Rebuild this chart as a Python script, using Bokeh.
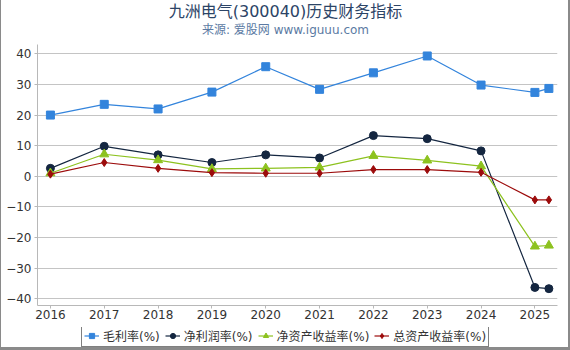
from bokeh.plotting import figure
from bokeh.models import Legend, LegendItem, FixedTicker, Range1d, ColumnDataSource
from bokeh.core.properties import value
from bokeh.layouts import column
from bokeh.embed import file_html
from bokeh.resources import INLINE

title = "九洲电气(300040)历史财务指标"
subtitle = "来源: 爱股网 www.iguuu.com"
x = [2016, 2017, 2018, 2019, 2020, 2021, 2022, 2023, 2024, 2025, 2025.26]
tick_years = [2016, 2017, 2018, 2019, 2020, 2021, 2022, 2023, 2024, 2025]
gross = [20.0, 23.5, 22.0, 27.5, 35.8, 28.4, 33.8, 39.3, 29.8, 27.4, 28.7]
net = [2.6, 9.8, 7.0, 4.5, 7.0, 6.0, 13.3, 12.3, 8.3, -36.3, -36.7]
roe = [1.0, 7.2, 5.3, 2.4, 2.6, 2.9, 6.7, 5.2, 3.3, -22.9, -22.6]
roa = [0.7, 4.5, 2.6, 1.2, 1.0, 1.0, 2.2, 2.2, 1.3, -7.7, -7.7]
names = ["毛利率(%)", "净利润率(%)", "净资产收益率(%)", "总资产收益率(%)"]

FONT = "DejaVu Sans, 'Noto Sans CJK SC'"
W = 567
ML, MR = 36, 11
HEAD_H, MAIN_H, LEG_H = 44, 283, 20


def strip(h, xr=(0, 1), yr=(0, 1)):
    f = figure(width=W, height=h, output_backend="svg", toolbar_location=None,
               x_range=Range1d(*xr), y_range=Range1d(*yr),
               x_axis_location=None, y_axis_location=None,
               min_border_left=ML, min_border_right=MR, min_border_top=0, min_border_bottom=0)
    f.title = None
    f.outline_line_color = None
    f.xgrid.grid_line_color = None
    f.ygrid.grid_line_color = None
    f.border_fill_color = "white"
    return f


# title strip
fw = W - ML - MR
head = strip(HEAD_H, (0, fw), (0, HEAD_H))
cx = 284 - ML
head.text(x=[cx], y=[HEAD_H - 11], text=[title], text_align="center", text_baseline="middle",
          text_font=value(FONT), text_font_size="16px", text_color="#2c4466")
head.text(x=[cx], y=[HEAD_H - 29], text=[subtitle], text_align="center", text_baseline="middle",
          text_font=value(FONT), text_font_size="12px", text_color="#5b7aa3")

# main chart
p = figure(width=W, height=MAIN_H, output_backend="svg", toolbar_location=None,
           x_range=Range1d(2015.76, 2025.42), y_range=Range1d(-42.2, 43.05),
           min_border_left=ML, min_border_right=MR, min_border_top=0, min_border_bottom=22)
p.title = None
p.outline_line_color = None
p.background_fill_color = "white"
p.border_fill_color = "white"

p.xgrid.grid_line_color = None
p.ygrid.grid_line_color = "#c4c4c4"
p.ygrid.grid_line_width = 1
p.yaxis.ticker = FixedTicker(ticks=[-40, -30, -20, -10, 0, 10, 20, 30, 40])
p.xaxis.ticker = FixedTicker(ticks=tick_years)
for ax in (p.xaxis[0], p.yaxis[0]):
    ax.axis_line_color = "#b8b8b8"
    ax.major_tick_line_color = "#b8b8b8"
    ax.minor_tick_line_color = None
    ax.major_tick_in = 0
    ax.major_tick_out = 3
    ax.major_label_text_font_size = "12px"
    ax.major_label_text_font = FONT
    ax.major_label_text_color = "#333333"
p.yaxis.major_label_standoff = 3
p.xaxis.major_label_standoff = 1

src = ColumnDataSource(dict(x=x, gross=gross, net=net, roe=roe, roa=roa))
colors = ["#3384dc", "#142640", "#8dc21f", "#9c0b0b"]
cols = ["gross", "net", "roe", "roa"]
markers = ["square", "circle", "triangle", "diamond"]
sizes = [8, 8, 9, 8]
for c, col, m, s in zip(colors, cols, markers, sizes):
    p.line("x", col, source=src, line_color=c, line_width=1.2)
    p.scatter("x", col, source=src, marker=m, size=s, fill_color=c, line_color=c)

# legend strip (renderers use the same data but lie outside this strip's ranges)
lg = strip(LEG_H)
items = []
for c, col, m, s, n in zip(colors, cols, markers, sizes, names):
    l = lg.line("x", col, source=src, line_color=c, line_width=1.2)
    sc = lg.scatter("x", col, source=src, marker=m, size=s - 1, fill_color=c, line_color=c)
    items.append(LegendItem(label=n, renderers=[l, sc]))

legend = Legend(items=items, orientation="horizontal", location=(44, 0),
                label_text_font_size="12px", label_text_font=FONT, label_text_color="#333333",
                border_line_color="black", border_line_width=1, padding=2, margin=0,
                spacing=5, glyph_width=15, glyph_height=13, label_height=13, label_standoff=4,
                background_fill_alpha=1)
lg.add_layout(legend, "center")

layout = column(head, p, lg, spacing=0,
                styles={"border-left": "1px solid #8a8a8a", "border-right": "2px solid #8a8a8a",
                        "border-bottom": "3px solid #8a8a8a", "background": "white"})

open("out.html", "w").write(file_html(layout, INLINE))
